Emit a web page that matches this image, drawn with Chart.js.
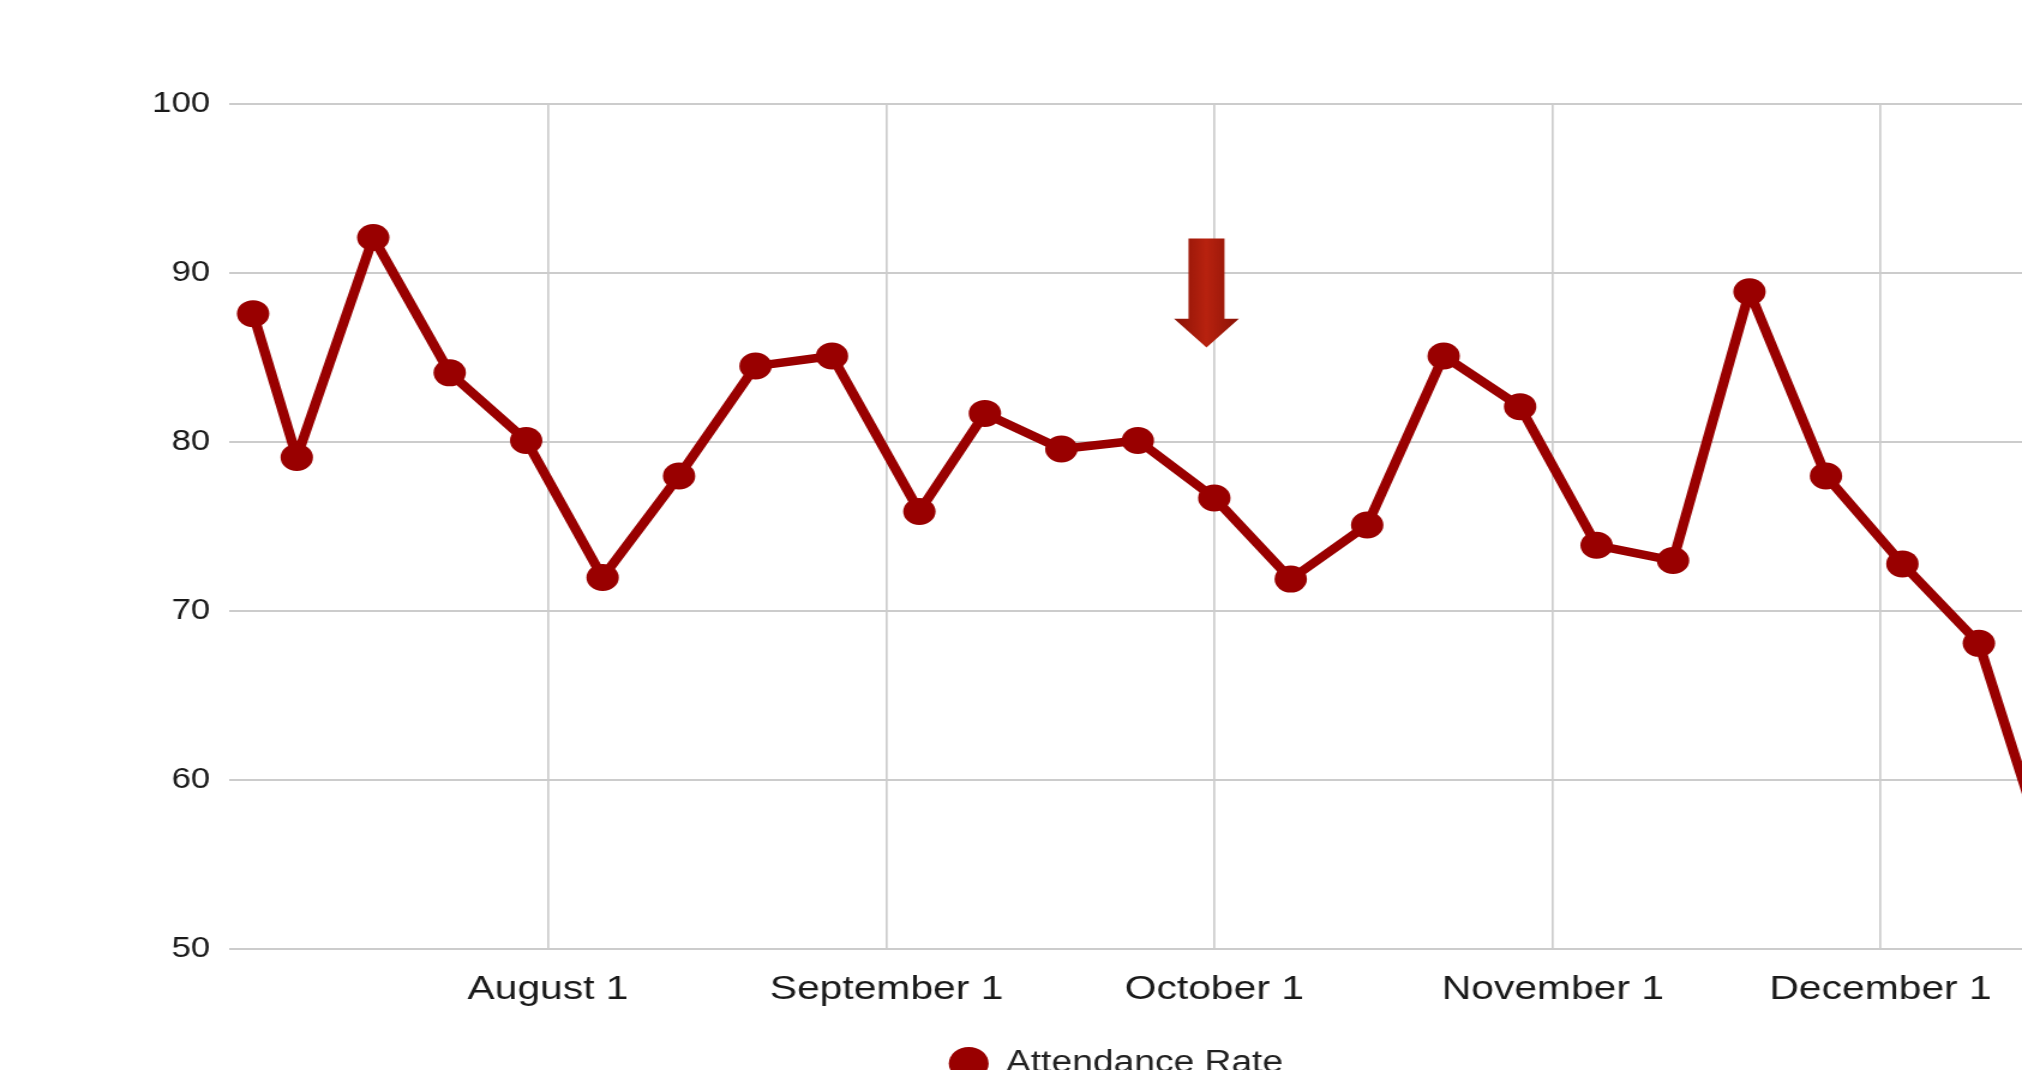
<!DOCTYPE html>
<html>
<head>
<meta charset="utf-8">
<title>Attendance Rate</title>
<script src="https://cdn.jsdelivr.net/npm/chart.js@4.4.1/dist/chart.umd.min.js"></script>
<style>
    html, body { margin: 0; padding: 0; background: #fff; overflow: hidden; }
    body { width: 2022px; height: 1070px; }
    /* the source picture is a screenshot stretched sideways, so stretch the chart the same way */
    #wrap { width: 1861px; height: 1089px; transform: scaleX(1.2); transform-origin: 0 0; }
</style>
</head>
<body>
<div id="wrap"><canvas id="attendanceChart"></canvas></div>
<script>
    const weekDates = [
        '2018-07-05', '2018-07-09', '2018-07-16', '2018-07-23', '2018-07-30',
        '2018-08-06', '2018-08-13', '2018-08-20', '2018-08-27', '2018-09-04',
        '2018-09-10', '2018-09-17', '2018-09-24', '2018-10-01', '2018-10-08',
        '2018-10-15', '2018-10-22', '2018-10-29', '2018-11-05', '2018-11-12',
        '2018-11-19', '2018-11-26', '2018-12-03', '2018-12-10', '2018-12-17'
    ];
    const attendanceRate = [
        87.6, 79.1, 92.1, 84.1, 80.1,
        72.0, 78.0, 84.5, 85.1, 75.9,
        81.7, 79.6, 80.1, 76.7, 71.9,
        75.1, 85.1, 82.1, 73.9, 73.0,
        88.9, 78.0, 72.8, 68.1, 54.0
    ];
    const monthStarts = ['2018-08-01', '2018-09-01', '2018-10-01', '2018-11-01', '2018-12-01'];
    const monthLabels = ['August 1', 'September 1', 'October 1', 'November 1', 'December 1'];
    const yTicks = [50, 60, 70, 80, 90, 100];

    // down arrow drawn over October 1 (values on the y scale)
    const arrowDate = '2018-10-01';
    const arrowLevels = [92.05, 87.3, 85.6]; // top of stem, start of head, tip

    const dayZero = Date.parse('2018-07-01');
    const dayNum = (iso) => (Date.parse(iso) - dayZero) / 86400000;

    const red = '#990000';
    const gridGrey = '#cccccc';
    const fontFamily = '"Liberation Sans", Arial, sans-serif';

    const arrowPlugin = {
        id: 'arrowNote',
        afterDatasetsDraw(chart) {
            const { ctx, scales: { x, y } } = chart;
            const cx = x.getPixelForValue(dayNum(arrowDate)) - 6.5;
            const top = y.getPixelForValue(arrowLevels[0]);
            const base = y.getPixelForValue(arrowLevels[1]);
            const tip = y.getPixelForValue(arrowLevels[2]);
            const stem = 15;
            const head = 27;

            const grad = ctx.createLinearGradient(cx - head, 0, cx + head, 0);
            grad.addColorStop(0, '#8a1206');
            grad.addColorStop(0.5, '#b8220f');
            grad.addColorStop(1, '#8a1206');

            ctx.save();
            ctx.beginPath();
            ctx.moveTo(cx - stem, top);
            ctx.lineTo(cx + stem, top);
            ctx.lineTo(cx + stem, base);
            ctx.lineTo(cx + head, base);
            ctx.lineTo(cx, tip);
            ctx.lineTo(cx - head, base);
            ctx.lineTo(cx - stem, base);
            ctx.closePath();
            ctx.fillStyle = grad;
            ctx.fill();
            ctx.restore();
        }
    };

    new Chart(document.getElementById('attendanceChart').getContext('2d'), {
        type: 'line',
        data: {
            datasets: [{
                label: 'Attendance Rate',
                data: weekDates.map((d, i) => ({ x: dayNum(d), y: attendanceRate[i] })),
                borderColor: red,
                backgroundColor: red,
                borderWidth: 8.5,
                borderJoinStyle: 'round',
                borderCapStyle: 'round',
                pointRadius: 13.5,
                pointBorderWidth: 0,
                pointBackgroundColor: red,
                tension: 0
            }]
        },
        options: {
            responsive: true,
            maintainAspectRatio: false,
            animation: false,
            layout: { padding: { top: 104, left: 0, right: 0, bottom: 0 } },
            plugins: {
                tooltip: { enabled: false },
                legend: {
                    position: 'bottom',
                    labels: {
                        usePointStyle: true,
                        pointStyle: 'circle',
                        boxHeight: 23.5,
                        color: '#222',
                        font: { family: fontFamily, size: 31 }
                    }
                }
            },
            scales: {
                x: {
                    type: 'linear',
                    min: 1.84,
                    max: 183.8,
                    afterBuildTicks: (scale) => {
                        scale.ticks = monthStarts.map(d => ({ value: dayNum(d) }));
                    },
                    afterFit: (scale) => { scale.height = 88.6; },
                    ticks: {
                        autoSkip: false,
                        maxRotation: 0,
                        padding: 19.5,
                        color: '#1a1a1a',
                        font: { family: fontFamily, size: 34 }, 
                        callback: (value) => {
                            const idx = monthStarts.findIndex(d => dayNum(d) === value);
                            return idx >= 0 ? monthLabels[idx] : '';
                        }
                    },
                    grid: { color: gridGrey, lineWidth: 1.7, drawTicks: false },
                    border: { display: false }
                },
                y: {
                    min: 50,
                    max: 100,
                    afterBuildTicks: (scale) => {
                        scale.ticks = yTicks.map(v => ({ value: v }));
                    },
                    afterFit: (scale) => { scale.width = 191.25; },
                    ticks: {
                        padding: 16,
                        color: '#1a1a1a',
                        font: { family: fontFamily, size: 29 }
                    },
                    grid: { color: gridGrey, lineWidth: 2, drawTicks: false },
                    border: { display: false }
                }
            }
        },
        plugins: [arrowPlugin]
    });
</script>
</body>
</html>
